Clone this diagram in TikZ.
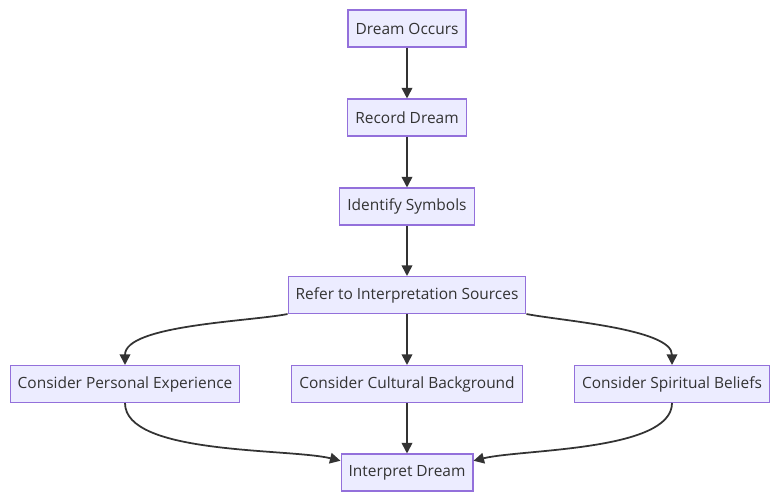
\documentclass[tikz,border=0pt]{standalone}
\usepackage{fontspec}
\setmainfont{Open Sans}
\usepackage{tikz}
\usetikzlibrary{arrows.meta, positioning}
\definecolor{boxfill}{HTML}{ECECFF}
\definecolor{boxline}{HTML}{9370DB}
\definecolor{ink}{HTML}{333333}
\begin{document}
\begin{tikzpicture}[
    box/.style={draw=boxline, fill=boxfill, line width=0.6pt, rectangle, align=center, minimum height=0.74cm, inner xsep=4.3pt, text=ink, font=\fontsize{8.8}{11}\selectfont},
    flow/.style={-{Triangle[length=6pt, width=6pt]}, line width=1pt, draw=ink}
]
\useasboundingbox (0,0) rectangle (15.6,-10);
\node[box] (occ)  at ( 8.14,-0.57) {Dream Occurs};
\node[box] (rec)  at ( 8.14,-2.35) {Record Dream};
\node[box] (sym)  at ( 8.14,-4.13) {Identify Symbols};
\node[box] (src)  at ( 8.14,-5.90) {Refer to Interpretation Sources};
\node[box] (pers) at ( 2.50,-7.68) {Consider Personal Experience};
\node[box] (cult) at ( 8.14,-7.68) {Consider Cultural Background};
\node[box] (spir) at (13.44,-7.68) {Consider Spiritual Beliefs};
\node[box] (intp) at ( 8.14,-9.45) {Interpret Dream};

\draw[flow] (occ) -- (rec);
\draw[flow] (rec) -- (sym);
\draw[flow] (sym) -- (src);
\draw[flow] (src.south west) to[out=191, in=90, looseness=0.6] (pers.north);
\draw[flow] (src) -- (cult);
\draw[flow] (src.south east) to[out=-11, in=90, looseness=0.6] (spir.north);
\draw[flow] (pers.south) to[out=-90, in=166, looseness=0.6] (intp.170);
\draw[flow] (cult) -- (intp);
\draw[flow] (spir.south) to[out=-90, in=14, looseness=0.6] (intp.10);
\end{tikzpicture}
\end{document}
